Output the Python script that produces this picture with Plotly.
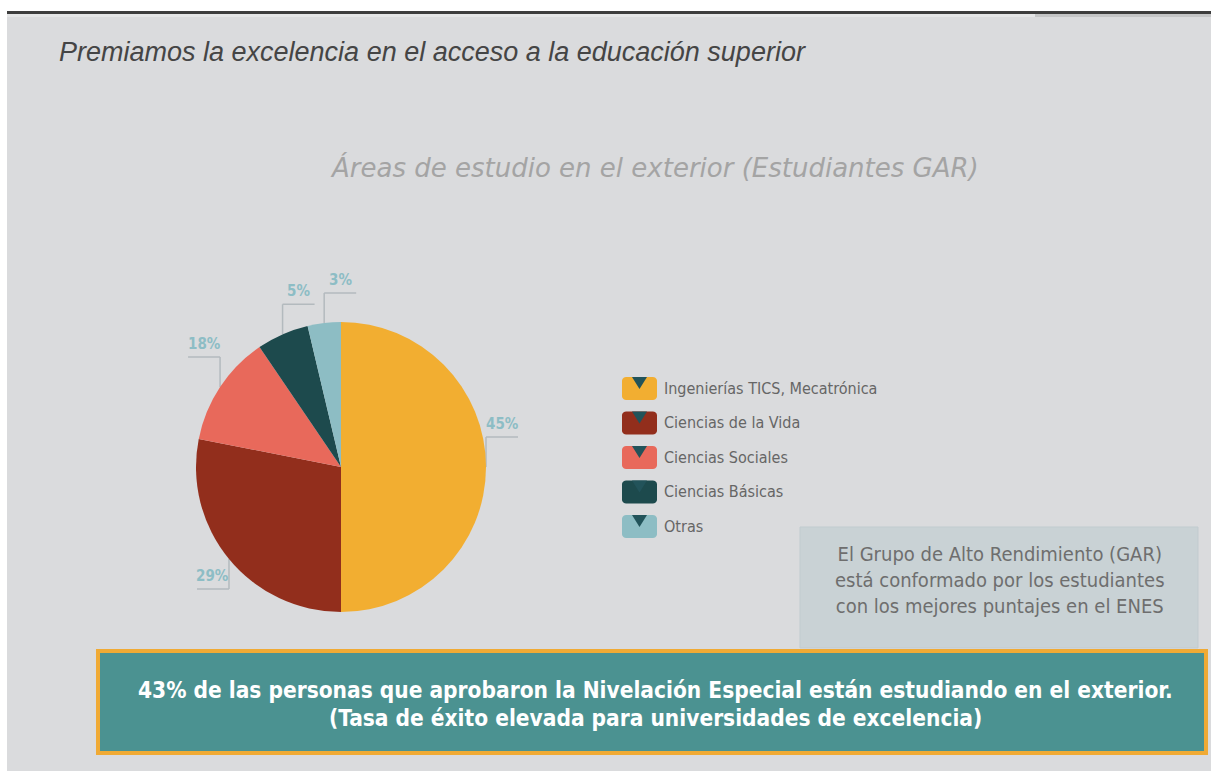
import math
import plotly.graph_objects as go

# ---------------- data ----------------
categories = ["Ingenierías TICS, Mecatrónica", "Ciencias de la Vida", "Ciencias Sociales",
              "Ciencias Básicas", "Otras"]
slice_share = [50.0, 28.1, 12.4, 5.8, 3.7]          # slice sizes as drawn
label_text = ["45%", "29%", "18%", "5%", "3%"]       # printed labels
colors = ["#f2ae31", "#922e1c", "#e8695b", "#1d4a4d", "#8dbdc4"]

title_text = "Premiamos la excelencia en el acceso a la educación superior"
subtitle_text = "Áreas de estudio en el exterior (Estudiantes GAR)"
box_text = ["El Grupo de Alto Rendimiento (GAR)", "está conformado por los estudiantes",
            "con los mejores puntajes en el ENES"]
banner_text = ["43% de las personas que aprobaron la Nivelación Especial están estudiando en el exterior.",
               "(Tasa de éxito elevada para universidades de excelencia)"]

# ---------------- layout helpers ----------------
W, H = 1211, 771
BG = "#dadbdd"
NARROW = "DejaVu Sans Condensed, DejaVu Sans, sans-serif"
SANS = "Liberation Sans, Arial, sans-serif"
WIDE = "DejaVu Sans, sans-serif"


def fx(x):
    return x / W


def fy(y):
    return 1 - y / H


def rect(x0, y0, x1, y1, fill, line=None, lw=0, layer="below"):
    return dict(type="rect", xref="paper", yref="paper", x0=fx(x0), x1=fx(x1), y0=fy(y1), y1=fy(y0),
                fillcolor=fill, line=dict(color=line or fill, width=lw), layer=layer)


def path(points, fill, close=True):
    s = "M " + " L ".join(f"{fx(a):.5f},{fy(b):.5f}" for a, b in points)
    if close:
        s += " Z"
    return dict(type="path", xref="paper", yref="paper", path=s, fillcolor=fill,
                line=dict(color=fill, width=0), layer="above")


def rounded(x0, y0, x1, y1, r, fill):
    pts = []
    corners = [(x1 - r, y0 + r, -90), (x1 - r, y1 - r, 0), (x0 + r, y1 - r, 90), (x0 + r, y0 + r, 180)]
    for cxx, cyy, a0 in corners:
        for k in range(7):
            a = math.radians(a0 + k * 15)
            pts.append((cxx + r * math.cos(a), cyy + r * math.sin(a)))
    return path(pts, fill)


fig = go.Figure()

# ---------------- pie ----------------
CX, CY, R = 341, 467, 145
fig.add_trace(go.Pie(
    labels=categories, values=slice_share, sort=False, direction="clockwise", rotation=0,
    marker=dict(colors=colors, line=dict(width=0)), textinfo="none",
    hoverinfo="label", showlegend=False,
    domain=dict(x=[fx(CX - R), fx(CX + R)], y=[fy(CY + R), fy(CY - R)]),
))

shapes = []
annotations = []

# background decorations
shapes.append(rect(0, 0, W, 11, "#ffffff"))
shapes.append(rect(0, 0, 7, H, "#ffffff"))
shapes.append(rect(7, 11, W, 14, "#3d3d3d"))
shapes.append(rect(7, 14, 1035, 17, "#e4e5e6"))
shapes.append(rect(1035, 14, W, 17, "#c4c5c6"))

# leader lines + labels computed from the slice data
total = sum(slice_share)
cum = 0.0
LEAD = "#b3babe"
for v, lab in zip(slice_share, label_text):
    mid = (cum + v / 2) / total * 2 * math.pi
    cum += v
    ax = CX + R * math.sin(mid)
    ay = CY - R * math.cos(mid)
    ey = ay - 30 if ay <= CY + 1 else ay + 30
    hx = ax + 32 if ax > CX - 0.5 * R else ax - 32
    shapes.append(dict(type="line", xref="paper", yref="paper", x0=fx(ax), y0=fy(ay), x1=fx(ax), y1=fy(ey),
                       line=dict(color=LEAD, width=1.5), layer="below"))
    shapes.append(dict(type="line", xref="paper", yref="paper", x0=fx(ax), y0=fy(ey), x1=fx(hx), y1=fy(ey),
                       line=dict(color=LEAD, width=1.5), layer="below"))
    annotations.append(dict(xref="paper", yref="paper", x=fx((ax + hx) / 2), y=fy(ey - 2),
                            xanchor="center", yanchor="bottom", showarrow=False, text=f"<b>{lab}</b>",
                            font=dict(family=NARROW, size=15, color="#8dbdc5")))

# custom legend
LX, LY0, LDY = 622, 388, 34.5
for i, (cat, col) in enumerate(zip(categories, colors)):
    yc = LY0 + i * LDY
    shapes.append(rounded(LX, yc - 11, LX + 35, yc + 12, 4, col))
    shapes.append(path([(LX + 10, yc - 11), (LX + 25, yc - 11), (LX + 17.5, yc + 1)], "#22535a"))
    annotations.append(dict(xref="paper", yref="paper", x=fx(LX + 40), y=fy(yc), xanchor="left",
                            yanchor="middle", showarrow=False, text=cat,
                            font=dict(family=NARROW, size=16, color="#666666")))

# grey info box
shapes.append(rect(800, 527, 1198, 648, "#c9d2d5", line="#c1cbcf", lw=1))
annotations.append(dict(xref="paper", yref="paper", x=fx(1000), y=fy(580), xanchor="center", yanchor="middle",
                        showarrow=False, align="center", text="<br>".join(box_text),
                        font=dict(family=NARROW, size=20, color="#6e6e6e")))

# bottom banner
shapes.append(dict(type="rect", xref="paper", yref="paper", x0=fx(98), x1=fx(1206), y0=fy(753), y1=fy(651),
                   fillcolor="#4b9291", line=dict(color="#f0aa34", width=4), layer="above"))
for k, (line_txt, yl) in enumerate(zip(banner_text, [690, 718])):
    annotations.append(dict(xref="paper", yref="paper", x=fx(655), y=fy(yl), xanchor="center",
                            yanchor="middle", showarrow=False, align="center", text=f"<b>{line_txt}</b>",
                            font=dict(family=NARROW, size=22.5, color="#ffffff")))

# titles
annotations.append(dict(xref="paper", yref="paper", x=fx(57), y=fy(52), xanchor="left", yanchor="middle",
                        showarrow=False, text=f"<i>{title_text}</i>",
                        font=dict(family=SANS, size=27, color="#454545")))
annotations.append(dict(xref="paper", yref="paper", x=fx(654), y=fy(167), xanchor="center", yanchor="middle",
                        showarrow=False, text=f"<i>{subtitle_text}</i>",
                        font=dict(family=WIDE, size=26, color="#a4a4a4")))

fig.update_layout(
    width=W, height=H, margin=dict(l=0, r=0, t=0, b=0),
    paper_bgcolor=BG, plot_bgcolor=BG,
    shapes=shapes, annotations=annotations, showlegend=False,
)

fig.write_html("out.html", config={"displayModeBar": False},
               post_script="document.body.style.margin='0';document.body.style.overflow='hidden';")
